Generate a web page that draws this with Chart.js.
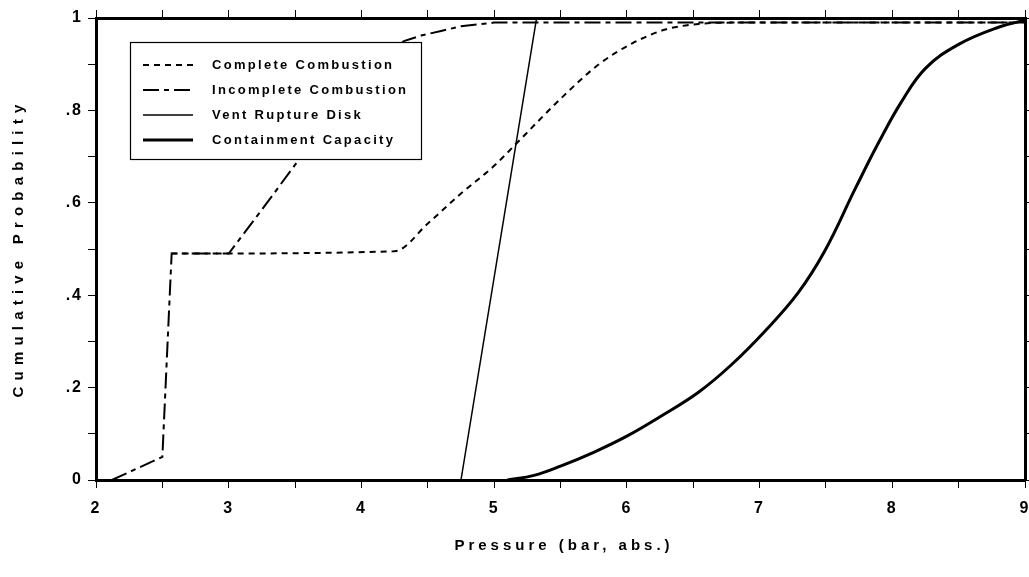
<!DOCTYPE html>
<html>
<head>
<meta charset="utf-8">
<script src="https://cdn.jsdelivr.net/npm/chart.js@4/dist/chart.umd.min.js"></script>
<style>
  body { margin: 0; background: #fff; }
  canvas { display: block; }
</style>
</head>
<body>
<canvas id="mycanvas" width="1029" height="577"></canvas>
<script>
// values (pressure in bar abs., cumulative probability)
var completeX = [2.57, 4.25, 4.5, 4.75, 5.0, 5.19, 5.5, 5.79, 6.04, 6.29, 6.54, 6.8, 9.0];
var completeY = [0.49, 0.495, 0.555, 0.62, 0.68, 0.735, 0.825, 0.9, 0.945, 0.975, 0.987, 0.99, 0.99];

var incompleteX = [2.12, 2.5, 2.57, 3.0, 3.25, 3.52, 3.75, 4.0, 4.15, 4.32, 4.45, 4.6, 4.75, 5.0, 5.3, 9.0];
var incompleteY = [0, 0.05, 0.49, 0.49, 0.585, 0.69, 0.78, 0.865, 0.91, 0.95, 0.962, 0.972, 0.982, 0.99, 0.99, 0.99];

var ventX = [4.75, 5.32];
var ventY = [0, 1];

var containX = [5.1, 5.3, 5.5, 5.75, 6.0, 6.25, 6.54, 6.79, 7.04, 7.29, 7.49, 7.72, 7.9, 8.07, 8.25, 8.5, 8.8, 9.0];
var containY = [0, 0.01, 0.03, 0.06, 0.095, 0.137, 0.19, 0.25, 0.322, 0.405, 0.495, 0.63, 0.732, 0.819, 0.891, 0.943, 0.98, 0.995];

var seriesNames = ['Complete Combustion', 'Incomplete Combustion', 'Vent Rupture Disk', 'Containment Capacity'];
var xTitle = 'Pressure (bar, abs.)';
var yTitle = 'Cumulative Probability';

var FONT = "'Liberation Sans', Arial, Helvetica, sans-serif";

function pts(xs, ys) {
  var out = [];
  for (var i in xs) out.push({ x: xs[i], y: ys[i] });
  return out;
}

function yLabel(v) {
  var k = Math.round(v * 10);
  if (k % 2) return '';
  if (k === 0) return '0';
  if (k === 10) return '1';
  return '.' + k;
}

var chartdata = {
  datasets: [
    { label: seriesNames[0], data: pts(completeX, completeY), borderColor: '#000', borderWidth: 2,
      borderDash: [6, 5], cubicInterpolationMode: 'monotone', pointRadius: 0 },
    { label: seriesNames[1], data: pts(incompleteX, incompleteY), borderColor: '#000', borderWidth: 2,
      borderDash: [16, 5, 5, 5], tension: 0, pointRadius: 0 },
    { label: seriesNames[2], data: pts(ventX, ventY), borderColor: '#000', borderWidth: 1.5,
      pointRadius: 0 },
    { label: seriesNames[3], data: pts(containX, containY), borderColor: '#000', borderWidth: 3,
      tension: 0.4, pointRadius: 0 }
  ]
};

// legend box drawn inside the plot + spaced axis titles
var paperPlugin = {
  id: 'paper',
  beforeDraw: function (chart) {
    var ctx = chart.ctx;
    ctx.save();
    ctx.fillStyle = '#fff';
    ctx.fillRect(0, 0, chart.width, chart.height);
    ctx.restore();
    ctx.letterSpacing = '2px'; // spaced tick labels like the original
  },
  afterDraw: function (chart) {
    var ctx = chart.ctx;
    ctx.save();
    // legend
    ctx.fillStyle = '#fff';
    ctx.fillRect(130, 42, 292, 118);
    ctx.strokeStyle = '#000';
    ctx.lineWidth = 1.2;
    ctx.strokeRect(130.5, 42.5, 291, 117);
    ctx.font = 'bold 13px ' + FONT;
    ctx.letterSpacing = '2.3px';
    ctx.textBaseline = 'middle';
    ctx.textAlign = 'left';
    chart.data.datasets.forEach(function (ds, i) {
      var y = 65 + i * 25;
      ctx.beginPath();
      ctx.setLineDash(ds.borderDash || []);
      ctx.lineWidth = ds.borderWidth;
      ctx.moveTo(143, y);
      ctx.lineTo(193, y);
      ctx.stroke();
      ctx.setLineDash([]);
      ctx.fillStyle = '#000';
      ctx.fillText(ds.label, 212, y);
    });
    // axis titles
    ctx.font = 'bold 15px ' + FONT;
    ctx.textAlign = 'center';
    ctx.letterSpacing = '4px';
    ctx.fillText(xTitle, 564, 546);
    ctx.translate(19, 248);
    ctx.rotate(-Math.PI / 2);
    ctx.letterSpacing = '6.2px';
    ctx.fillText(yTitle, 0, 0);
    ctx.restore();
  }
};

var tickFont = { family: FONT, size: 16, weight: 'bold' };
var axisGrid = { drawOnChartArea: false, drawTicks: true, tickLength: 8, tickColor: '#000', tickWidth: 1 };
var axisBorder = { display: true, color: '#000', width: 3 };

function noPad(s) {
  s.paddingLeft = 0; s.paddingRight = 0; s.paddingTop = 0; s.paddingBottom = 0;
}

var ctx = document.getElementById('mycanvas');
var lineGraph = new Chart(ctx, {
  type: 'line',
  data: chartdata,
  options: {
    responsive: false,
    animation: false,
    layout: { padding: 0 },
    plugins: { legend: { display: false }, tooltip: { enabled: false } },
    scales: {
      x: {
        type: 'linear', position: 'bottom', min: 2, max: 9,
        grid: axisGrid, border: axisBorder,
        ticks: { stepSize: 0.5, autoSkip: false, maxRotation: 0, padding: 11, color: '#000', font: tickFont,
          callback: function (v) { return Number.isInteger(v) ? String(v) : ''; } },
        afterFit: function (s) { s.height = 97; noPad(s); }
      },
      x2: {
        type: 'linear', position: 'top', min: 2, max: 9,
        grid: axisGrid, border: axisBorder,
        ticks: { stepSize: 0.5, autoSkip: false, display: false },
        afterFit: function (s) { s.height = 18; noPad(s); }
      },
      y: {
        type: 'linear', position: 'left', min: 0, max: 1,
        grid: axisGrid, border: axisBorder,
        ticks: { stepSize: 0.1, autoSkip: false, padding: 5, color: '#000', font: tickFont, callback: yLabel },
        afterFit: function (s) { s.width = 96; noPad(s); }
      },
      y2: {
        type: 'linear', position: 'right', min: 0, max: 1,
        grid: axisGrid, border: axisBorder,
        ticks: { stepSize: 0.1, autoSkip: false, display: false },
        afterFit: function (s) { s.width = 4; noPad(s); }
      }
    }
  },
  plugins: [paperPlugin]
});
</script>
</body>
</html>
